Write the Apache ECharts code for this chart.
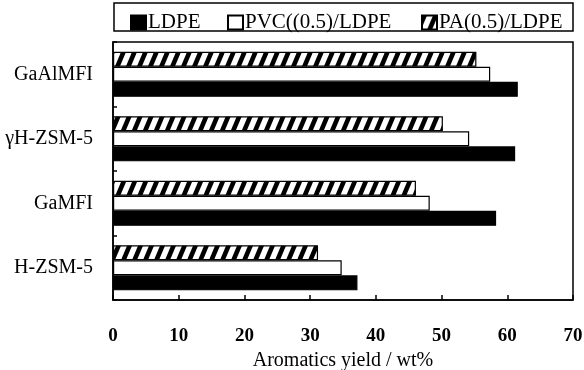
<!DOCTYPE html>
<html>
<head>
<meta charset="utf-8">
<script src="https://cdn.jsdelivr.net/npm/echarts@6/dist/echarts.min.js"></script>
<style>
  html, body { margin: 0; padding: 0; background: #fff; }
  #chart { width: 584px; height: 370px; }
</style>
</head>
<body>
<div id="chart"></div>
<script>
var catalysts = ['H-ZSM-5', 'GaMFI', 'γH-ZSM-5', 'GaAlMFI'];
var seriesNames = ['LDPE', 'PVC((0.5)/LDPE', 'PA(0.5)/LDPE'];
var ldpe = [37.2, 58.3, 61.2, 61.6];
var pvcLdpe = [34.8, 48.2, 54.2, 57.4];
var paLdpe = [31.2, 46.1, 50.2, 55.3];
var xTicks = [0, 10, 20, 30, 40, 50, 60, 70];

var serif = '"Liberation Serif", "Times New Roman", serif';

// diagonal hatch tile
function hatch() {
    var c = document.createElement('canvas');
    c.width = 11;
    c.height = 26;
    var ctx = c.getContext('2d');
    ctx.fillStyle = '#fff';
    ctx.fillRect(0, 0, 11, 26);
    ctx.fillStyle = '#000';
    for (var k = -1; k <= 1; k++) {
        var o = k * 11;
        ctx.beginPath();
        ctx.moveTo(o + 0, 26);
        ctx.lineTo(o + 5, 26);
        ctx.lineTo(o + 16, 0);
        ctx.lineTo(o + 11, 0);
        ctx.closePath();
        ctx.fill();
    }
    return c;
}

var chart = echarts.init(document.getElementById('chart'), null, { renderer: 'canvas' });

function barSeries(name, data, fill) {
    return {
        name: name,
        type: 'bar',
        data: data,
        barGap: 0,
        barCategoryGap: '30%',
        itemStyle: {
            color: fill,
            borderColor: '#000',
            borderWidth: 1.2
        },
        emphasis: { disabled: true }
    };
}

// one legend per entry so each can sit where it is in the figure
function legendAt(name, left) {
    return {
        left: left,
        top: 7,
        itemWidth: 15,
        itemHeight: 14,
        icon: 'rect',
        data: [name],
        textStyle: { fontFamily: serif, fontSize: 21, color: '#000', padding: [0, 0, 0, -3] }
    };
}

var option = {
    backgroundColor: '#fff',
    animation: false,
    textStyle: { fontFamily: serif, color: '#000' },
    graphic: [{
        type: 'rect',
        shape: { x: 114, y: 3, width: 459, height: 28 },
        style: { fill: 'none', stroke: '#000', lineWidth: 1.5 }
    }],
    legend: [
        legendAt(seriesNames[0], 125),
        legendAt(seriesNames[1], 222),
        legendAt(seriesNames[2], 416)
    ],
    grid: {
        left: 113,
        right: 11,
        top: 42,
        bottom: 70,
        show: true,
        borderColor: '#000',
        borderWidth: 1.5,
        containLabel: false,
        outerBoundsMode: 'none'
    },
    xAxis: {
        type: 'value',
        min: xTicks[0],
        max: xTicks[xTicks.length - 1],
        interval: 10,
        name: 'Aromatics yield / wt%',
        nameLocation: 'middle',
        nameGap: 50,
        nameTextStyle: { fontFamily: serif, fontSize: 20, color: '#000' },
        axisLine: { show: true, lineStyle: { color: '#000', width: 1.5 } },
        axisTick: { show: true, inside: true, length: 5, lineStyle: { color: '#000', width: 1.5 } },
        axisLabel: { margin: 27, fontFamily: serif, fontSize: 19, fontWeight: 'bold', color: '#000' },
        splitLine: { show: false }
    },
    yAxis: {
        type: 'category',
        data: catalysts,
        axisLine: { show: true, lineStyle: { color: '#000', width: 1.5 } },
        axisTick: { show: true, inside: true, length: 4, lineStyle: { color: '#000', width: 1.5 } },
        axisLabel: { margin: 20, fontFamily: serif, fontSize: 20, color: '#000' }
    },
    // series order top-to-bottom inside a group: hatched, white, black
    series: [
        barSeries(seriesNames[2], paLdpe, { image: hatch(), repeat: 'repeat' }),
        barSeries(seriesNames[1], pvcLdpe, '#fff'),
        barSeries(seriesNames[0], ldpe, '#000')
    ]
};
chart.setOption(option);
</script>
</body>
</html>
